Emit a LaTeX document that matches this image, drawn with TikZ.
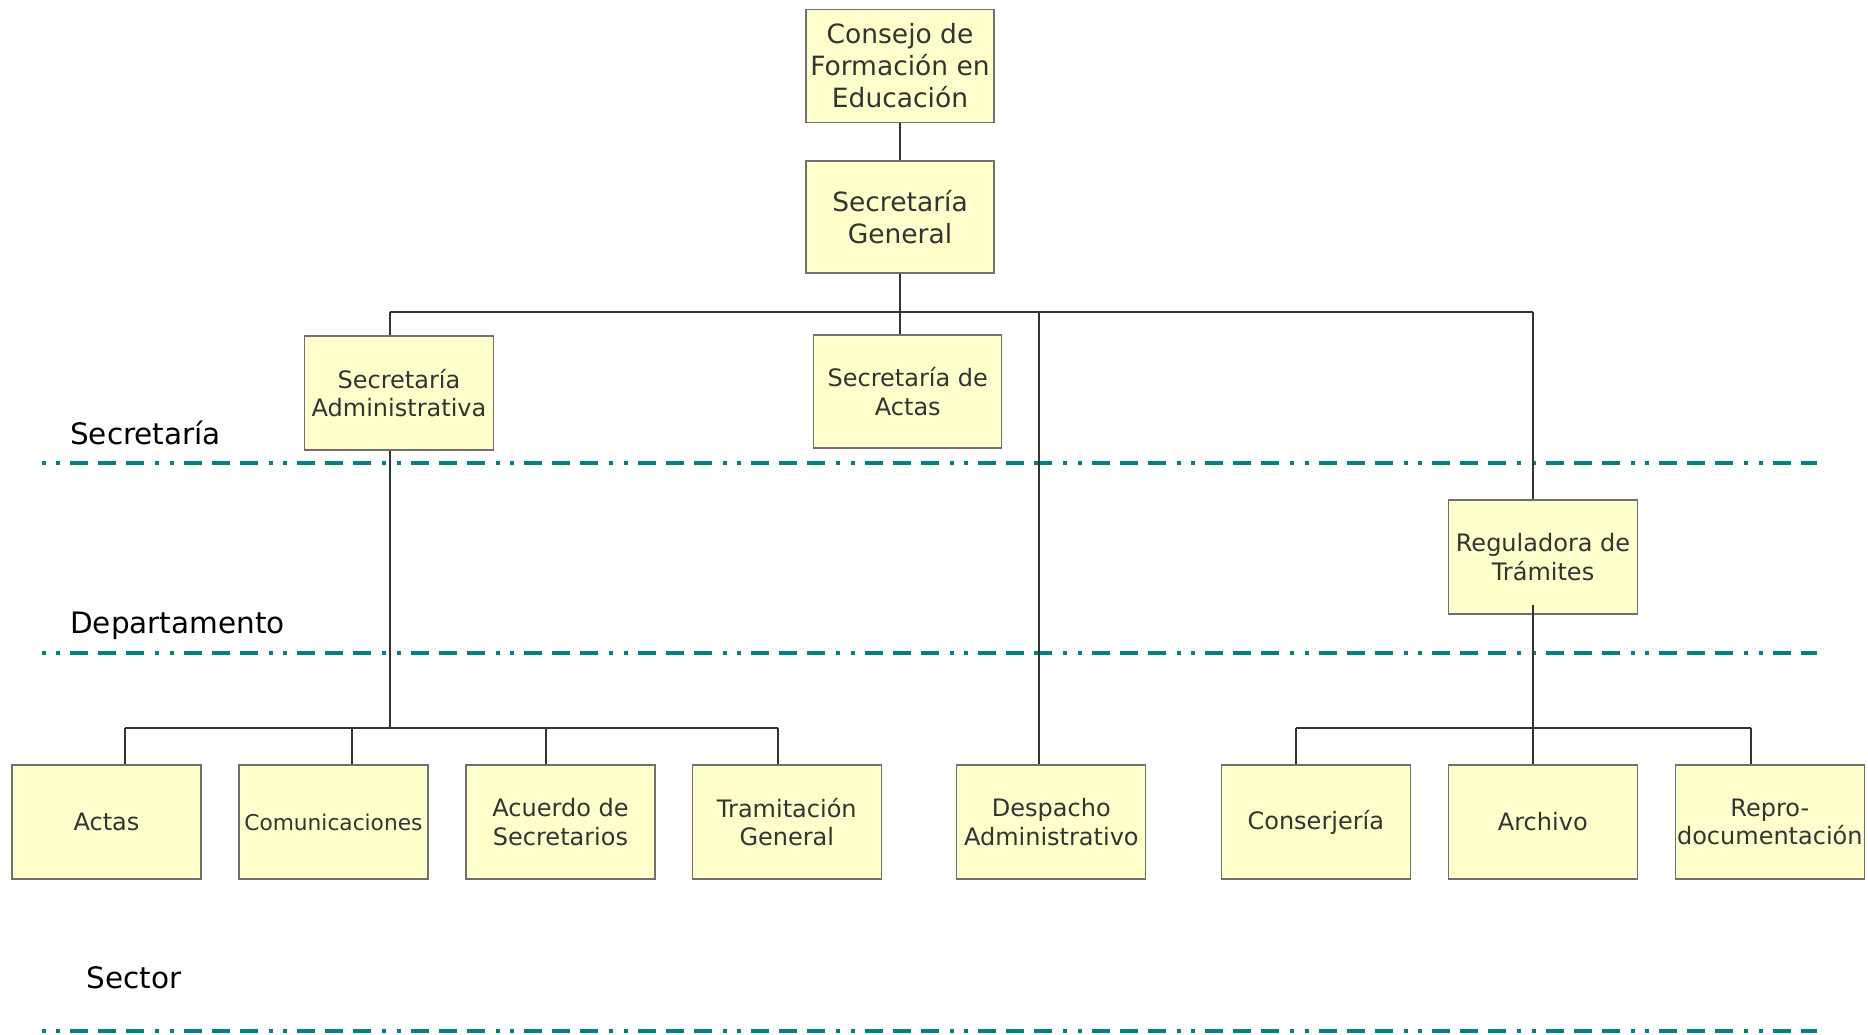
\documentclass[tikz,border=0pt]{standalone}
\usepackage{fontspec}
\setmainfont{DejaVu Sans}
\definecolor{boxfill}{HTML}{FFFFCC}
\definecolor{boxdraw}{HTML}{707070}
\definecolor{boxtext}{HTML}{333333}
\definecolor{conncol}{HTML}{333333}
\definecolor{teal}{HTML}{008080}
\begin{document}
\begin{tikzpicture}[x=1pt,y=-1pt,
  orgbox/.style={draw=boxdraw,line width=1.2pt,fill=boxfill,text=boxtext,
    minimum width=189pt,minimum height=114pt,inner sep=0pt,align=center,
    font=\fontsize{24}{28.6}\selectfont},
  topbox/.style={orgbox,minimum width=188pt,minimum height=113pt,font=\fontsize{26.5}{32}\selectfont},
  conn/.style={draw=conncol,line width=1.5pt},
  levelline/.style={draw=teal,line width=4pt,
    dash pattern=on 4pt off 10.5pt on 4pt off 10pt on 18pt off 10pt on 18pt off 10pt on 18pt off 11pt},
  levellabel/.style={anchor=base west,inner sep=0pt,text=black,font=\fontsize{29.5}{34}\selectfont}]
\useasboundingbox (0,0) rectangle (1868,1035);

% level lines and labels
\coordinate (l1a) at (41.7,463); \coordinate (l1b) at (1817,463);
\coordinate (l2a) at (41.7,652.5); \coordinate (l2b) at (1817,652.5);
\coordinate (l3a) at (41.7,1030.5); \coordinate (l3b) at (1817,1030.5);
\draw[levelline] (l1a) -- (l1b);
\draw[levelline] (l2a) -- (l2b);
\draw[levelline] (l3a) -- (l3b);
\node[levellabel] (lsec) at (70,444) {Secretaría};
\node[levellabel] (ldep) at (70,633) {Departamento};
\node[levellabel] (lsect) at (86.5,988) {Sector};

% top boxes
\node[topbox] (cons) at (900,66) {Consejo de\\Formación en\\Educación};
\node[topbox,minimum height=112pt] (sg) at (900,217) {Secretaría\\General};

% secretaria level
\node[orgbox] (sa) at (399,393) {Secretaría\\Administrativa};
\node[orgbox,minimum width=188pt,minimum height=113pt] (sda) at (907.8,391.4) {Secretaría de\\Actas};
\node[orgbox] (reg) at (1543,557) {Reguladora de\\Trámites};

% bottom row
\node[orgbox] (actas) at (106.5,822) {Actas};
\node[orgbox,font=\fontsize{21.7}{26}\selectfont] (com) at (333.4,822) {Comunicaciones};
\node[orgbox] (acu) at (560.5,822) {Acuerdo de\\Secretarios};
\node[orgbox] (tram) at (786.8,822) {Tramitación\\General};
\node[orgbox] (desp) at (1051.3,822) {Despacho\\Administrativo};
\node[orgbox] (conj) at (1315.8,822) {Conserjería};
\node[orgbox] (arch) at (1542.8,822) {Archivo};
\node[orgbox] (repro) at (1769.8,822) {Repro-\\documentación};

% connectors
\draw[conn] (cons) -- (sg);
\coordinate (busL) at (390,312);
\coordinate (busR) at (1533,312);
\coordinate (busD) at (1039,312);
\draw[conn] (busL) -- (busR);
\draw[conn] (sg.south) -- (sg.south |- busL);
\draw[conn] (busL) -- (sa.north -| busL);
\draw[conn] (sg.south |- busL) -- (sda.north -| sg.south);
\draw[conn] (busD) -- (desp.north -| busD);
\draw[conn] (busR) -- (reg.north -| busR);

\coordinate (b2L) at (125,728);
\coordinate (b2C) at (352,728);
\coordinate (b2D) at (546,728);
\coordinate (b2R) at (778,728);
\draw[conn] (sa.south -| busL) -- (b2L -| busL);
\draw[conn] (b2L) -- (b2R);
\draw[conn] (b2L) -- (actas.north -| b2L);
\draw[conn] (b2C) -- (com.north -| b2C);
\draw[conn] (b2D) -- (acu.north -| b2D);
\draw[conn] (b2R) -- (tram.north -| b2R);

\coordinate (b3L) at (1296,728);
\coordinate (b3C) at (1533,728);
\coordinate (b3R) at (1751,728);
\draw[conn] ([yshift=10pt]reg.south -| b3C) -- (b3C);
\draw[conn] (b3L) -- (b3R);
\draw[conn] (b3L) -- (conj.north -| b3L);
\draw[conn] (b3C) -- (arch.north -| b3C);
\draw[conn] (b3R) -- (repro.north -| b3R);
\end{tikzpicture}
\end{document}
